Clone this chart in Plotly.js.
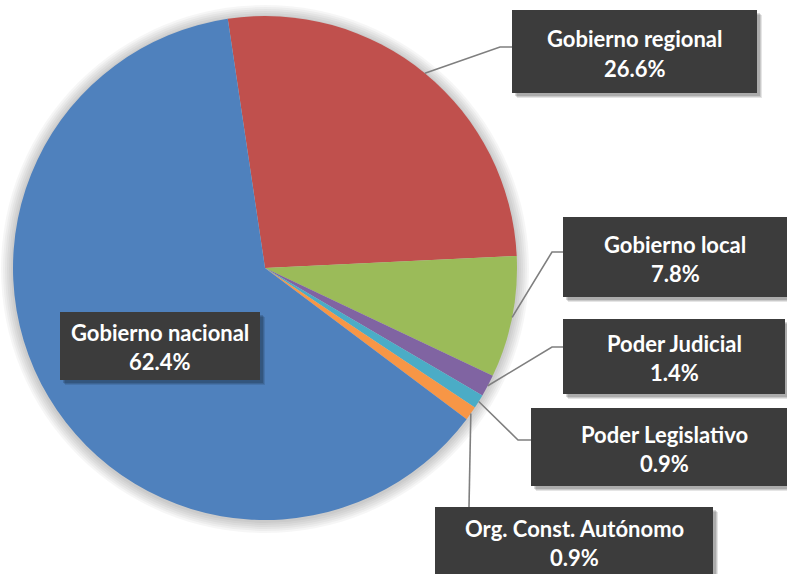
<!DOCTYPE html>
<html><head><meta charset="utf-8">
<script src="https://cdn.plot.ly/plotly-3.0.1.min.js"></script>
<style>html,body{margin:0;padding:0;background:#fff;overflow:hidden}#chart{width:787px;height:574px}</style>
</head><body><div id="chart"></div>
<script>
const categories = ["Gobierno regional","Gobierno local","Poder Judicial","Poder Legislativo","Org. Const. Autónomo","Gobierno nacional"];
const shares = [26.6, 7.8, 1.4, 0.9, 0.9, 62.4];
const pctLabels = ["26.6%","7.8%","1.4%","0.9%","0.9%","62.4%"];
const colors = ["#C0504D","#9BBB59","#8064A2","#4BACC6","#F79646","#4F81BD"];

const W = 787, H = 574;
const CX = 265, CY = 268, R = 252;
const ROT = -8.5;
const px = x => x / W, py = y => 1 - y / H;

// label box layout (pixels): box, text centre x, baselines, elbow points
const layoutBoxes = [
  {b:[512,10,757,93],  tx:634.5, l1:45,  l2:75,  elbow:[[512,47],[500,47]]},
  {b:[563,217,800,297],tx:675,   l1:251, l2:280, elbow:[[563,252],[552,252]]},
  {b:[563,319,785,394],tx:674,   l1:350, l2:379, elbow:[[563,347],[552,347]]},
  {b:[531,408,800,486],tx:664.5, l1:441, l2:470, elbow:[[531,440],[518,440]]},
  {b:[435,507,713,600],tx:574,   l1:535, l2:564, elbow:[[469,507]]},
  {b:[60,312,260,380], tx:160,   l1:339, l2:368, elbow:null}
];

const total = shares.reduce((a,b)=>a+b,0);
let cum = 0;
const mids = shares.map(v => { const m = ROT + (cum + v/2)/total*360; cum += v; return m; });

const shapes = [];
// soft halo behind pie
for (let i = 0; i < 6; i++) {
  const rr = R + 2 + i*2;
  shapes.push({type:'circle', xref:'paper', yref:'paper', layer:'below',
    x0:px(CX-rr), x1:px(CX+rr), y0:py(CY+rr+1), y1:py(CY-rr+1),
    fillcolor:'rgba(0,0,0,0.035)', line:{width:0}});
}
const annotations = [];
const font = {family:'Lato, "Open Sans", sans-serif', size:22, color:'#ffffff', weight:700};
layoutBoxes.forEach((L, i) => {
  const [x0,y0,x1,y1] = L.b;
  // shadow
  [[5,0.10],[4,0.12],[3,0.15]].forEach(([o,a]) => {
    shapes.push({type:'rect', xref:'paper', yref:'paper', layer:'above',
      x0:px(x0+o), x1:px(x1+o), y0:py(y1+o), y1:py(y0+o),
      fillcolor:`rgba(0,0,0,${a})`, line:{width:0}});
  });
  shapes.push({type:'rect', xref:'paper', yref:'paper', layer:'above',
    x0:px(x0), x1:px(x1), y0:py(y1), y1:py(y0),
    fillcolor:'#3c3c3c', line:{width:0}});
  if (L.elbow) {
    const a = mids[i]*Math.PI/180;
    const ex = CX + R*Math.sin(a), ey = CY - R*Math.cos(a);
    const pts = L.elbow.concat([[ex,ey]]);
    const path = pts.map((p,k)=>(k?'L':'M')+px(p[0])+','+py(p[1])).join(' ');
    shapes.push({type:'path', xref:'paper', yref:'paper', layer:'above', path,
      line:{color:'#7f7f7f', width:1.6}});
  }
  annotations.push({xref:'paper', yref:'paper', x:px(L.tx), y:py(L.l1-7), xanchor:'center', yanchor:'middle',
    text:categories[i], showarrow:false, font});
  annotations.push({xref:'paper', yref:'paper', x:px(L.tx), y:py(L.l2-7), xanchor:'center', yanchor:'middle',
    text:pctLabels[i], showarrow:false, font});
});

const data = [{
  type:'pie', labels:categories, values:shares, sort:false, direction:'clockwise', rotation:ROT,
  marker:{colors, line:{width:0}}, textinfo:'none', hoverinfo:'label+percent',
  domain:{x:[px(CX-R), px(CX+R)], y:[py(CY+R), py(CY-R)]}
}];
const layout = {width:W, height:H, margin:{l:0,r:0,t:0,b:0}, showlegend:false,
  paper_bgcolor:'#ffffff', shapes, annotations};
Plotly.newPlot('chart', data, layout, {displayModeBar:false, staticPlot:true});
</script></body></html>
